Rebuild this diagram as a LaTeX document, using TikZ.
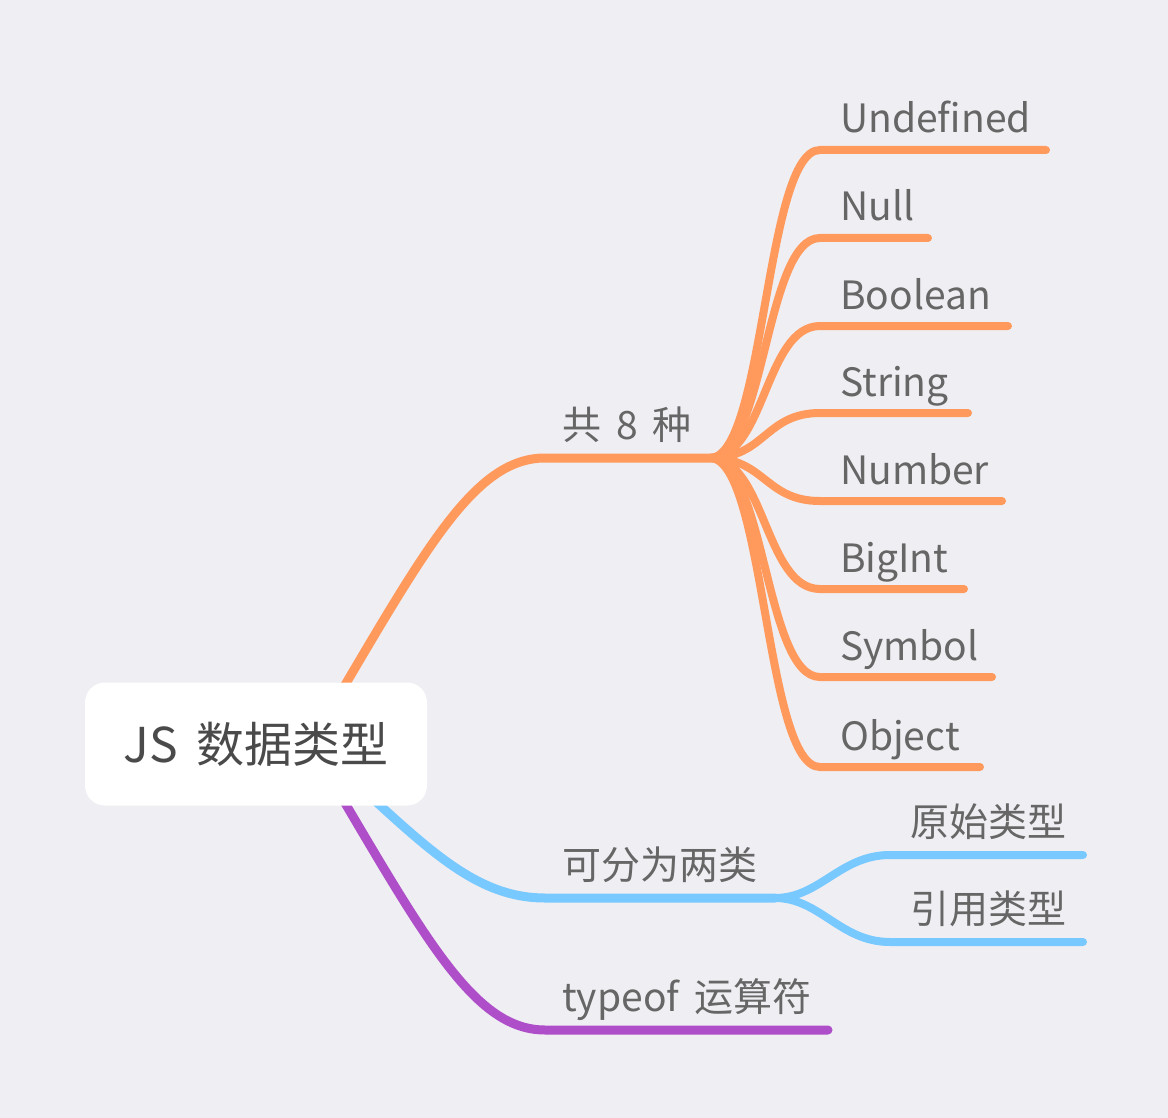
\documentclass[tikz,border=0pt]{standalone}
\usepackage{fontspec}
\setmainfont{Noto Sans CJK SC}[WordSpace=1.7]
\usepackage{tikz}
\usetikzlibrary{positioning}

\definecolor{bgcol}{HTML}{EFEEF3}
\definecolor{typeorange}{HTML}{FF9A5C}
\definecolor{kindblue}{HTML}{78C9FF}
\definecolor{oppurple}{HTML}{AE4EC8}
\definecolor{roottext}{HTML}{4A4A4A}
\definecolor{leaftext}{HTML}{666666}

\tikzset{
   branch/.style={line width=9pt,line cap=round},
   twig/.style={line width=8pt,line cap=round},
   topic text/.style={anchor=base west,inner sep=0pt,text=leaftext,font=\fontsize{39}{41}\selectfont},
   root box/.style={rectangle,rounded corners=20pt,fill=white,minimum width=342pt,minimum height=123pt,
      text=roottext,font=\fontsize{48}{50}\selectfont}
}

\begin{document}
\begin{tikzpicture}[x=1pt,y=-1pt]

   \fill[bgcol] (0,0) rectangle (1168,1118);
   \useasboundingbox (0,0) rectangle (1168,1118);

   \coordinate (root) at (310,744);
   \coordinate (kinds) at (545,458);
   \coordinate (kinds-end) at (710,458);
   \coordinate (split) at (545,898);
   \coordinate (split-end) at (775,898);
   \coordinate (op) at (545,1030);

   % main branches
   \draw[branch,typeorange] (root) .. controls (420,560) and (470,458) .. (kinds) -- (kinds-end);
   \draw[branch,kindblue] (330,760) .. controls (420,840) and (470,898) .. (split) -- (split-end);
   \draw[branch,oppurple] (root) .. controls (420,928) and (470,1030) .. (op) -- ++(283,0);

   \node[topic text] (kinds-label) at ([xshift=17pt,yshift=19pt]kinds) {共 8 种};
   \node[topic text] (split-label) at ([xshift=17pt,yshift=19pt]split) {可分为两类};
   \node[topic text] (op-label) at ([xshift=17pt,yshift=19pt]op) {typeof 运算符};

   \foreach \lbl/\ly/\len [count=\i] in {Undefined/150/226,Null/238/108,Boolean/326/188,String/413/148,
         Number/501/182,BigInt/589/144,Symbol/677/172,Object/767/160} {
      \coordinate (type\i) at (820,\ly);
      \draw[twig,typeorange] (kinds-end) .. controls +(55,0) and +(-55,0) .. (type\i) -- ++(\len,0);
      \node[topic text] (type\i-label) at ([xshift=20pt,yshift=17pt]type\i) {\lbl};
   }

   \foreach \lbl/\ly [count=\i] in {原始类型/855,引用类型/942} {
      \coordinate (kind\i) at (890,\ly);
      \draw[twig,kindblue] (split-end) .. controls +(45,0) and +(-50,0) .. (kind\i) -- ++(193,0);
      \node[topic text] (kind\i-label) at ([xshift=20pt,yshift=19pt]kind\i) {\lbl};
   }

   \node[root box] (js) at (256,744) {JS 数据类型};

\end{tikzpicture}
\end{document}
